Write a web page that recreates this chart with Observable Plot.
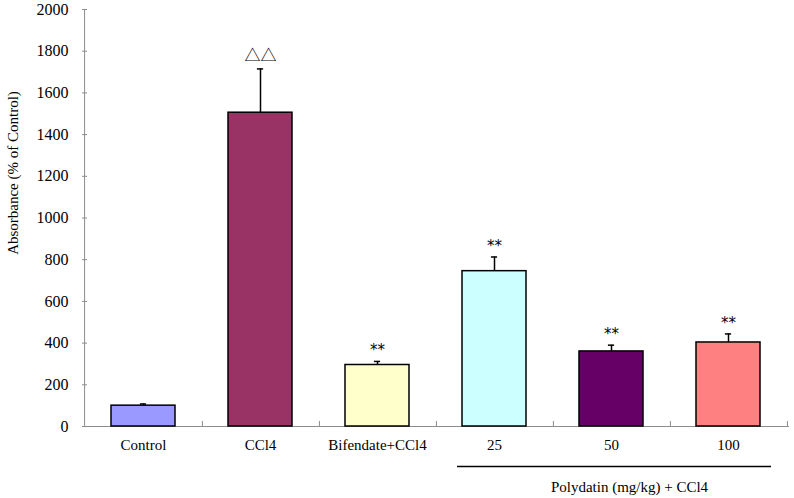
<!DOCTYPE html>
<html><head><meta charset="utf-8">
<script src="https://cdn.jsdelivr.net/npm/d3@7"></script>
<script src="https://cdn.jsdelivr.net/npm/@observablehq/plot@0.6"></script>
<style>
html,body{margin:0;padding:0;background:#fff;}
</style></head>
<body><div id="chart"></div>
<script>
const categories = ["Control", "CCl4", "Bifendate+CCl4", "25", "50", "100"];
const values = [100, 1505, 295, 745, 360, 403];
const errors = [8, 210, 17, 68, 30, 41];
const marks = ["", "△△", "**", "**", "**", "**"];
const barColors = ["#9999FF", "#993366", "#FFFFCC", "#CCFFFF", "#660066", "#FF8080"];
const yTicks = [0, 200, 400, 600, 800, 1000, 1200, 1400, 1600, 1800, 2000];
const groupLabel = "Polydatin (mg/kg) + CCl4";
const yLabel = "Absorbance (% of Control)";

const data = categories.map((c, i) => ({cat: c, value: values[i], err: errors[i], mark: marks[i]}));

const W = 794, H = 498, ML = 82, MR = 5, MT = 9, MB = 72;
const step = (W - ML - MR) / categories.length;
const bw = step * 0.55;
const capW = 7;
const axisGray = "#8c8c8c";
const serif = '"Liberation Serif", "Times New Roman", Times, serif';

const plot = Plot.plot({
  width: W, height: H,
  marginLeft: ML, marginRight: MR, marginTop: MT, marginBottom: MB,
  style: {fontFamily: serif, background: "#fff", overflow: "visible"},
  x: {domain: categories, paddingInner: 0.45, paddingOuter: 0.225, label: null},
  y: {domain: [0, 2000], label: null},
  color: {domain: categories, range: barColors},
  marks: [
    Plot.axisY({ticks: yTicks, tickFormat: d => String(d), tickSize: -5, tickPadding: 19, stroke: axisGray,
      fontSize: 16, fontFamily: serif, fill: "#000", label: null}),
    Plot.ruleX([categories[0]], {x: d => d, y1: 0, y2: 2000, dx: -step / 2, stroke: axisGray, strokeWidth: 1}),
    Plot.ruleY([0], {stroke: axisGray, strokeWidth: 1}),
    Plot.axisX({tickSize: 0, tickPadding: 13, fontSize: 15, fontFamily: serif, fill: "#000", label: null}),
    Plot.axisX({tickSize: -5, tickFormat: () => "", dx: step / 2, stroke: axisGray, label: null}),
    Plot.barY(data, {x: "cat", y: "value", fill: "cat", stroke: "#000", strokeWidth: 1.5}),
    Plot.ruleX(data, {x: "cat", y1: "value", y2: d => d.value + d.err, stroke: "#000", strokeWidth: 1.5}),
    Plot.tickY(data, {x: "cat", y: d => d.value + d.err, stroke: "#000", strokeWidth: 1.5,
      insetLeft: (bw - capW) / 2, insetRight: (bw - capW) / 2}),
    Plot.text(data.filter(d => d.mark === "**"), {x: "cat", y: d => d.value + d.err, text: "mark", dy: -11, fontSize: 15,
      fontFamily: '"DejaVu Sans", sans-serif', fill: "#000"}),
    Plot.text(data.filter(d => d.mark === "△△"), {x: "cat", y: d => d.value + d.err, text: "mark", dy: -13, fontSize: 16,
      fontFamily: '"Noto Sans CJK SC", sans-serif', fill: "#000"}),
    Plot.ruleY([0], {x1: () => "25", x2: () => "100", dy: 40, insetLeft: -5, insetRight: -11, stroke: "#000", strokeWidth: 1.5}),
    Plot.text([groupLabel], {x: () => "50", y: () => 0, text: d => d, dx: 18, dy: 61, fontSize: 15, fontFamily: serif, fill: "#000"}),
    Plot.text([yLabel], {frameAnchor: "left", text: d => d, rotate: -90, textAnchor: "middle", dx: -69, dy: -45,
      fontSize: 15, fontFamily: serif, fill: "#000"})
  ]
});
document.getElementById("chart").appendChild(plot);
</script></body></html>
